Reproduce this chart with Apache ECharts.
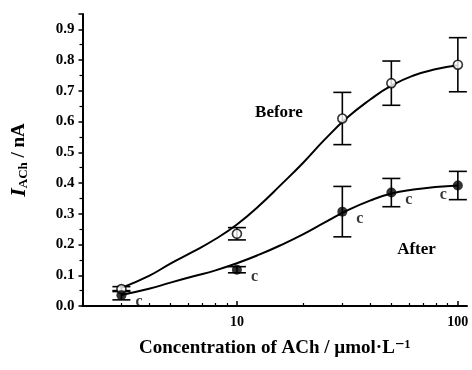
<!DOCTYPE html>
<html>
<head>
<meta charset="utf-8">
<script src="https://cdn.jsdelivr.net/npm/echarts@6/dist/echarts.min.js"></script>
<style>
  html, body { margin: 0; padding: 0; background: #fff; }
  #chart { width: 472px; height: 370px; }
</style>
</head>
<body>
<div id="chart"></div>
<script>
// measured points (mean +/- error)
var conc = [3, 10, 30, 50, 100];
var beforeMean = [0.055, 0.235, 0.61, 0.725, 0.785];
var beforeErr = [0.008, 0.02, 0.085, 0.072, 0.088];
var afterMean = [0.035, 0.118, 0.307, 0.369, 0.392];
var afterErr = [0.015, 0.01, 0.082, 0.046, 0.046];
var afterMarks = ['c', 'c', 'c', 'c', 'c'];

// fitted curves
var curveX = [3, 4, 5, 6.3, 8, 10, 12.6, 15.8, 20, 25, 31.6, 40, 50, 63, 79, 100];
var beforeFit = [0.059, 0.098, 0.138, 0.176, 0.218, 0.265, 0.326, 0.394, 0.467, 0.542, 0.613, 0.671, 0.717, 0.75, 0.77, 0.783];
var afterFit = [0.036, 0.056, 0.076, 0.096, 0.116, 0.139, 0.167, 0.198, 0.234, 0.272, 0.311, 0.343, 0.366, 0.379, 0.387, 0.392];

var minorTicks = [2, 3, 4, 5, 6, 7, 8, 9, 20, 30, 40, 50, 60, 70, 80, 90];
var majorTicks = [10, 100];

var FONT = '"Liberation Serif", "DejaVu Serif", serif';

var chart = echarts.init(document.getElementById('chart'));

function pairs(xs, ys) {
	return xs.map(function (x, i) { return [x, ys[i]]; });
}

function errData(means, errs) {
	return conc.map(function (x, i) { return [x, means[i] - errs[i], means[i] + errs[i]]; });
}

// error bars: vertical line + two caps
function renderErr(params, api) {
	var lo = api.coord([api.value(0), api.value(1)]);
	var hi = api.coord([api.value(0), api.value(2)]);
	var w = 9;
	var st = { stroke: '#000', lineWidth: 1.6 };
	return {
		type: 'group',
		children: [
			{ type: 'line', shape: { x1: lo[0], y1: lo[1], x2: hi[0], y2: hi[1] }, style: st },
			{ type: 'line', shape: { x1: lo[0] - w, y1: lo[1], x2: lo[0] + w, y2: lo[1] }, style: st },
			{ type: 'line', shape: { x1: hi[0] - w, y1: hi[1], x2: hi[0] + w, y2: hi[1] }, style: st }
		]
	};
}

var afterPts = conc.map(function (x, i) {
	var last = i === conc.length - 1;
	return {
		value: [x, afterMean[i]],
		label: {
			show: true,
			formatter: afterMarks[i],
			position: last ? 'left' : 'right',
			offset: last ? [-1, 9] : [4, 7]
		}
	};
});

var option = {
	animation: false,
	backgroundColor: '#fff',
	grid: { left: 81, right: 5, top: 14, bottom: 64 },
	xAxis: [{
		type: 'log',
		logBase: 10,
		min: 2,
		max: 110,
		name: 'Concentration of ACh / \u00b5mol\u00b7L\u207b\u00b9',
		nameLocation: 'middle',
		nameGap: 33,
		nameTextStyle: { fontFamily: FONT, fontWeight: 'bold', fontSize: 19, color: '#000' },
		axisLine: { lineStyle: { color: '#000', width: 2 } },
		axisTick: { show: true, inside: true, length: 5, customValues: majorTicks, lineStyle: { color: '#000', width: 1.5 } },
		axisLabel: { customValues: majorTicks, fontFamily: FONT, fontWeight: 'bold', fontSize: 14, color: '#000', margin: 9 },
		splitLine: { show: false }
	}, {
		type: 'log',
		logBase: 10,
		min: 2,
		max: 110,
		position: 'bottom',
		axisLine: { show: false },
		axisTick: { show: true, inside: true, length: 3, customValues: minorTicks, lineStyle: { color: '#000', width: 1.2 } },
		axisLabel: { show: false },
		splitLine: { show: false }
	}],
	yAxis: {
		type: 'value',
		min: 0,
		max: 0.95,
		interval: 0.1,
		name: '{i|I}{s|ACh}{n| / nA}',
		nameLocation: 'middle',
		nameRotate: 90,
		nameGap: 52,
		nameTextStyle: {
			fontFamily: FONT, fontWeight: 'bold', fontSize: 19, color: '#000',
			rich: {
				i: { fontFamily: FONT, fontWeight: 'bold', fontStyle: 'italic', fontSize: 22, color: '#000' },
				s: { fontFamily: FONT, fontWeight: 'bold', fontSize: 13, color: '#000', padding: [10, 0, 0, 0] },
				n: { fontFamily: FONT, fontWeight: 'bold', fontSize: 19, color: '#000' }
			}
		},
		axisLine: { show: true, lineStyle: { color: '#000', width: 2 } },
		axisTick: { show: true, length: 4, lineStyle: { color: '#000', width: 1.5 } },
		minorTick: { show: true, splitNumber: 2, length: 3, lineStyle: { color: '#000', width: 1.2 } },
		axisLabel: {
			fontFamily: FONT, fontWeight: 'bold', fontSize: 15, color: '#000', margin: 8,
			showMaxLabel: false,
			formatter: function (v) { return v.toFixed(1); }
		},
		splitLine: { show: false }
	},
	series: [
		{
			type: 'line',
			data: pairs(curveX, beforeFit),
			smooth: 0.5,
			symbol: 'none',
			lineStyle: { color: '#000', width: 2 },
			z: 2,
			markPoint: {
				symbol: 'circle',
				symbolSize: 0,
				data: [{ coord: [15.5, 0.63], label: { show: true, formatter: 'Before' } }],
				label: { fontFamily: FONT, fontWeight: 'bold', fontSize: 17, color: '#000' }
			}
		},
		{
			type: 'line',
			data: pairs(curveX, afterFit),
			smooth: 0.5,
			symbol: 'none',
			lineStyle: { color: '#000', width: 2 },
			z: 2,
			markPoint: {
				symbol: 'circle',
				symbolSize: 0,
				data: [{ coord: [65, 0.183], label: { show: true, formatter: 'After' } }],
				label: { fontFamily: FONT, fontWeight: 'bold', fontSize: 17, color: '#000' }
			}
		},
		{
			type: 'custom',
			renderItem: renderErr,
			data: errData(beforeMean, beforeErr),
			encode: { x: 0, y: [1, 2] },
			z: 3
		},
		{
			type: 'custom',
			renderItem: renderErr,
			data: errData(afterMean, afterErr),
			encode: { x: 0, y: [1, 2] },
			z: 3
		},
		{
			type: 'scatter',
			data: pairs(conc, beforeMean),
			symbol: 'circle',
			symbolSize: 9,
			itemStyle: { color: '#fff', borderColor: '#000', borderWidth: 1.6 },
			z: 5
		},
		{
			type: 'scatter',
			data: afterPts,
			symbol: 'circle',
			symbolSize: 10,
			itemStyle: { color: '#000' },
			label: { fontFamily: FONT, fontWeight: 'bold', fontSize: 16, color: '#000' },
			z: 5
		}
	]
};

chart.setOption(option);
</script>
</body>
</html>
